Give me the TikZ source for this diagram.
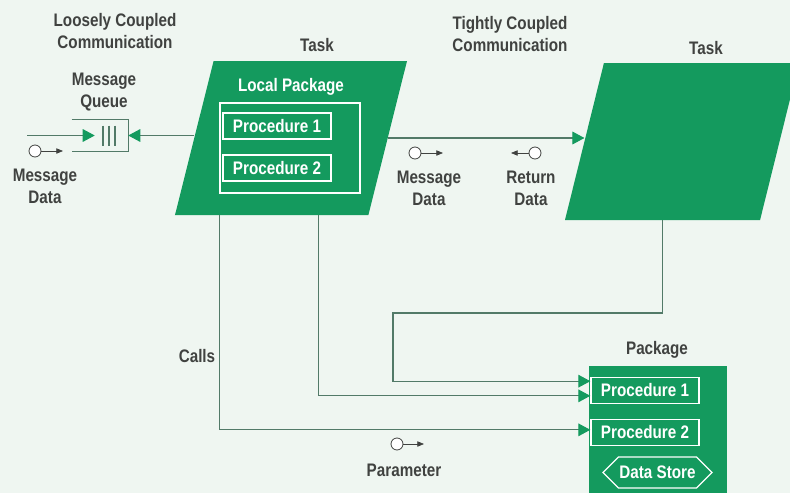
\documentclass[tikz,border=0pt]{standalone}
\usepackage{fontspec}
\setmainfont{Liberation Sans}[FakeStretch=0.84]
\usetikzlibrary{shapes.geometric,shapes.symbols,arrows.meta,positioning,calc}
\definecolor{hpgreen}{RGB}{20,154,94}
\definecolor{paper}{RGB}{239,246,241}
\definecolor{ink}{RGB}{64,66,64}
\definecolor{wirecol}{RGB}{82,122,104}

\begin{document}
\begin{tikzpicture}[
    x=0.75pt, y=-0.75pt,
    every node/.style={font=\fontsize{13.6}{16.5}\selectfont\bfseries, text=ink, align=center},
    task/.style={trapezium, trapezium left angle=76, trapezium right angle=104, trapezium stretches=true, fill=hpgreen, inner sep=2pt, outer sep=0pt},
    proc/.style={rectangle, draw=white, line width=1pt, text=white, minimum width=81pt, minimum height=19.5pt, inner sep=0pt},
    tok/.style={circle, draw=ink, fill=white, line width=0.6pt, minimum size=9pt, inner sep=0pt},
    tokline/.style={draw=ink, line width=0.6pt, -{Triangle[length=5pt,width=4pt]}},
    wire/.style={draw=wirecol, line width=0.8pt},
    >={Triangle[length=9pt,width=9.5pt,color=hpgreen]}
]
    \fill[paper] (0,0) rectangle (790,493);
    \useasboundingbox (0,0) rectangle (790,493);

    % tasks
    \node[task, minimum width=174pt, minimum height=115.5pt] (ltask) at (291,138) {};
    \node[task, minimum width=175.5pt, minimum height=117.75pt] (rtask) at (682,141.5) {};
    \node[rectangle, draw=white, line width=1pt, minimum width=105pt, minimum height=67.5pt] (lpkg) at (290,148) {};
    \node[text=white] (lpkgname) at (291,87) {Local Package};
    \node[proc] (lp1) at (277,126) {Procedure 1};
    \node[proc] (lp2) at (277,168) {Procedure 2};

    % package
    \node[rectangle, fill=hpgreen, minimum width=103.5pt, minimum height=100.5pt, inner sep=0pt] (pkg) at (658,433) {};
    \node[proc] (pp1) at (645,390.5) {Procedure 1};
    \node[proc] (pp2) at (645,432.5) {Procedure 2};
    \node[signal, signal to=west and east, signal pointer angle=90, draw=white, line width=1pt, text=white, minimum width=81.75pt, minimum height=23.25pt, inner sep=0pt] (store) at (657.5,472.5) {Data Store};

    % message queue
    \node[minimum width=24.75pt, minimum height=23.25pt, inner sep=0pt] (queue) at (111.5,135.5) {};
    \draw[wire] ([xshift=-17.25pt]queue.north west) -- (queue.north east) -- (queue.south east) -- ([xshift=-17.25pt]queue.south west);
    \foreach \bx in {-8.5,-2.5,3.5}
        \draw[wire] ($(queue)+(\bx,-10)$) -- ($(queue)+(\bx,10)$);
    \coordinate (qin) at (27,135.5);
    \draw[wire,->] (qin) -- (queue.west);
    \draw[wire,->] (queue.east -| ltask.left side) -- (queue.east);

    % data tokens
    \node[tok] (qtok) at (35,151) {};
    \coordinate (qtokend) at (63,151);
    \draw[tokline] (qtok) -- (qtokend);
    \node[tok] (mtok) at (415,153) {};
    \coordinate (mtokend) at (443,153);
    \draw[tokline] (mtok) -- (mtokend);
    \node[tok] (rtok) at (535,153) {};
    \coordinate (rtokend) at (511,153);
    \draw[tokline] (rtok) -- (rtokend);
    \node[tok] (ptok) at (397,444) {};
    \coordinate (ptokend) at (424,444);
    \draw[tokline] (ptok) -- (ptokend);

    % labels
    \node (loose) at (115,31.5) {Loosely Coupled\\Communication};
    \node (ltaskname) at (317,45) {Task};
    \node (tight) at (510,34.5) {Tightly Coupled\\Communication};
    \node (rtaskname) at (706,48) {Task};
    \node (qname) at (104,92) {Message\\Queue};
    \node (qdata) at (45,186) {Message\\Data};
    \node (mdata) at (429,188.5) {Message\\Data};
    \node (rdata) at (531,188.5) {Return\\Data};
    \node (calls) at (197,356) {Calls};
    \node (pkgname) at (657,350) {Package};
    \node (param) at (404,470) {Parameter};

    % connections
    \draw[wire,->] (ltask.right side) -- (ltask.right side -| rtask.left side);
    \coordinate (turn) at (393,313);
    \draw[wire,->] (rtask.bottom side) |- (turn) |- ([yshift=7pt]pp1.west);
    \draw[wire,->] ($(ltask.bottom side)+(46.5,0)$) |- ([yshift=-4pt]pp1.west);
    \draw[wire,->] (lpkg.west |- ltask.bottom side) |- ([yshift=2pt]pp2.west);
\end{tikzpicture}
\end{document}
